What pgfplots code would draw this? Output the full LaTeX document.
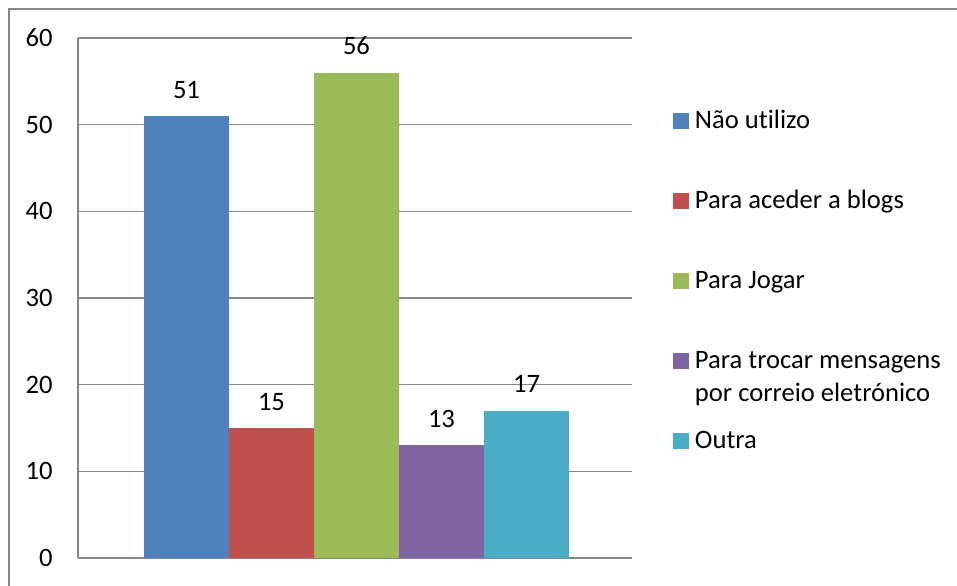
\documentclass[border=0pt]{standalone}
\usepackage{fontspec}
\setmainfont{Carlito}[Ligatures={NoCommon}]
\usepackage{pgfplots}
\pgfplotsset{compat=1.18}

\definecolor{sBlue}{HTML}{4F81BD}
\definecolor{sRed}{HTML}{C0504D}
\definecolor{sGreen}{HTML}{9BBB59}
\definecolor{sPurple}{HTML}{8064A2}
\definecolor{sCyan}{HTML}{4BACC6}
\definecolor{axisgray}{HTML}{868686}

\begin{document}
\fontsize{13.3pt}{16pt}\selectfont
\begin{tikzpicture}
% outer chart border (cut by the page edge on the right and bottom)
\draw[axisgray, line width=0.6pt] (4.5pt,-10pt) -- (4.5pt,288pt) -- (500pt,288pt);
\begin{axis}[
    at={(39pt,13.5pt)}, anchor=south west,
    scale only axis,
    width=277pt, height=260pt,
    ybar=0pt, bar width=42.5pt,
    xmin=-0.5027, xmax=0.4973,
    ymin=0, ymax=60,
    ytick={0,10,...,60},
    xtick=\empty,
    axis lines*=left,
    axis line style={axisgray, line width=0.6pt, -},
    ymajorgrids,
    grid style={axisgray, line width=0.6pt},
    major tick length=0pt,
    /pgf/number format/assume math mode=true,
    yticklabel style={anchor=east, inner sep=0pt, xshift=-12.5pt},
    nodes near coords,
    nodes near coords style={anchor=base, inner sep=0pt, yshift=9pt, text=black},
    legend cell align=left,
    legend style={at={(1.074,0.856)}, anchor=north west, draw=none,
        inner sep=0pt, outer sep=0pt, row sep=32pt, column sep=3pt,
        nodes={inner sep=0pt, text height=8pt, text depth=0pt}},
    legend image code/.code={\fill[#1, draw=none] (0pt,-4pt) rectangle (8pt,4pt);},
]
\addplot[fill=sBlue, draw=none] coordinates {(0,51)};
\addlegendentry{Não utilizo}
\addplot[fill=sRed, draw=none] coordinates {(0,15)};
\addlegendentry{Para aceder a blogs}
\addplot[fill=sGreen, draw=none] coordinates {(0,56)};
\addlegendentry{Para Jogar}
\addplot[fill=sPurple, draw=none] coordinates {(0,13)};
\addlegendentry{\parbox[t]{150pt}{\setlength{\baselineskip}{16.5pt}Para trocar mensagens\\por correio eletrónico}}
\addplot[fill=sCyan, draw=none] coordinates {(0,17)};
\addlegendentry{Outra}
\end{axis}
\pgfresetboundingbox
\useasboundingbox (0,0) rectangle (478.5pt,292.5pt);
\end{tikzpicture}
\end{document}
